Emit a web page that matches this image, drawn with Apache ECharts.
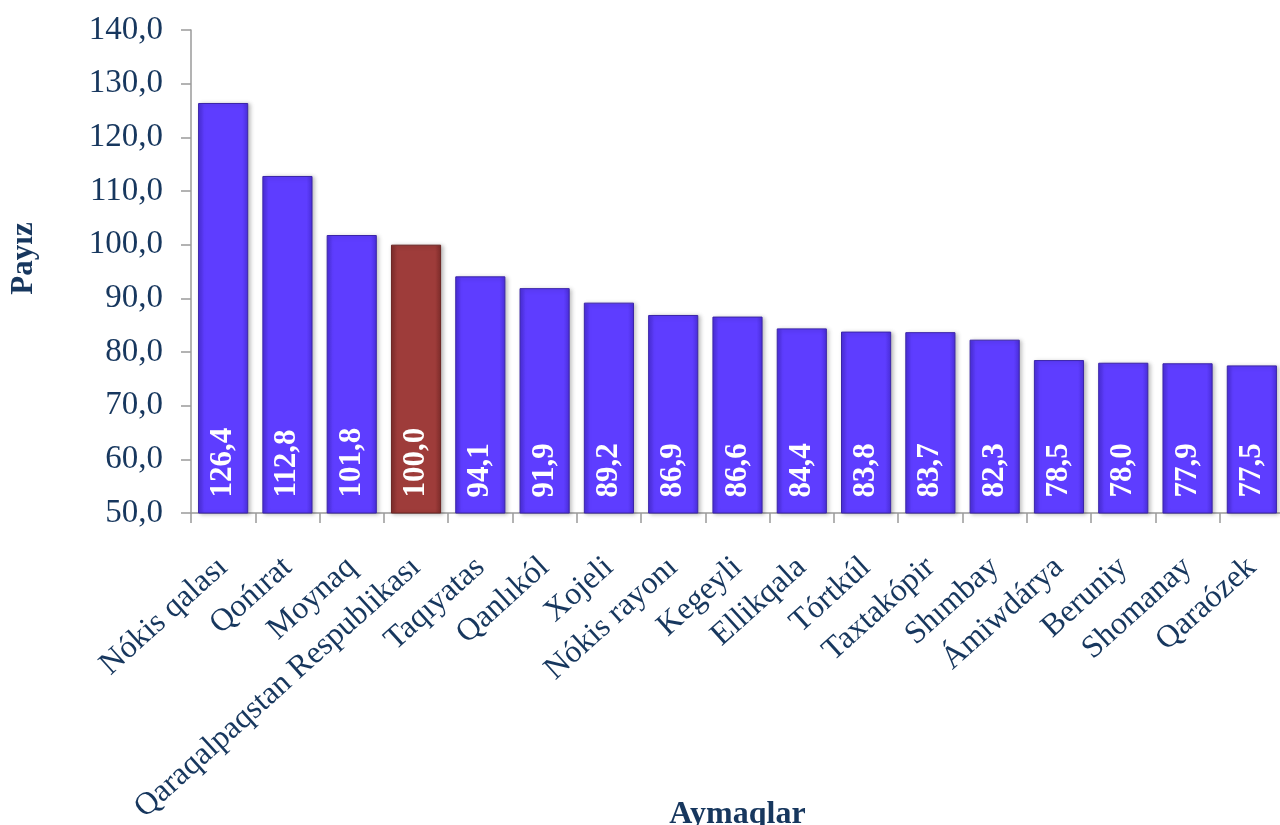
<!DOCTYPE html>
<html>
<head>
<meta charset="utf-8">
<script src="https://cdn.jsdelivr.net/npm/echarts@6/dist/echarts.min.js"></script>
<style>
html,body{margin:0;padding:0;background:#fff;}
#c{width:1280px;height:825px;}
</style>
</head>
<body>
<div id="c"></div>
<script>
const categories = ["Nókis qalası","Qońırat","Moynaq","Qaraqalpaqstan Respublikası","Taqıyatas","Qanlıkól","Xojeli","Nókis rayonı","Kegeyli","Ellikqala","Tórtkúl","Taxtakópir","Shımbay","Ámiwdárya","Beruniy","Shomanay","Qaraózek"];
const values = [126.4,112.8,101.8,100.0,94.1,91.9,89.2,86.9,86.6,84.4,83.8,83.7,82.3,78.5,78.0,77.9,77.5];
const highlightIndex = 3;
const yAxisName = "Payız";
const xAxisName = "Aymaqlar";

const textColor = "#17375E";
const fontFam = "Liberation Serif";

function grad(edge, mid){
  return new echarts.graphic.LinearGradient(0,0,1,0,[
    {offset:0,color:edge},{offset:0.12,color:mid},{offset:0.88,color:mid},{offset:1,color:edge}
  ]);
}

const shadow = {shadowBlur:4, shadowOffsetX:2, shadowOffsetY:1, shadowColor:'rgba(0,0,0,0.25)'};
const data = values.map((v,i)=>({
  value:v,
  itemStyle: i===highlightIndex
    ? Object.assign({color:grad('#7E2C2A','#9E3C3A'), borderColor:'#6A2422', borderWidth:1}, shadow)
    : Object.assign({color:grad('#4A2EDA','#5E3DFF'), borderColor:'#3B25A8', borderWidth:1}, shadow)
}));

const chart = echarts.init(document.getElementById('c'));
chart.setOption({
  animation:false,
  backgroundColor:'#fff',
  grid:{left:191, top:30, bottom:312, width:1093, containLabel:false, outerBoundsMode:'none'},
  xAxis:{
    type:'category',
    data:categories,
    name:xAxisName,
    nameLocation:'middle',
    nameGap:286,
    nameMoveOverlap:false,
    nameTextStyle:{color:textColor, fontFamily:fontFam, fontSize:32, fontWeight:'bold'},
    axisLine:{lineStyle:{color:'#9A9A9A', width:1.5}},
    axisTick:{show:true, length:10, alignWithLabel:false, lineStyle:{color:'#9A9A9A', width:1.5}},
    axisLabel:{rotate:42, interval:0, margin:50, color:textColor, fontFamily:fontFam, fontSize:32}
  },
  yAxis:{
    type:'value',
    min:50, max:140, interval:10,
    name:yAxisName,
    nameLocation:'middle',
    nameGap:152,
    nameRotate:90,
    nameMoveOverlap:false,
    nameTextStyle:{color:textColor, fontFamily:fontFam, fontSize:31, fontWeight:'bold', padding:[0,0,0,26]},
    axisLine:{show:true, lineStyle:{color:'#9A9A9A', width:1.5}},
    axisTick:{show:true, length:10, lineStyle:{color:'#9A9A9A', width:1.5}},
    splitLine:{show:false},
    axisLabel:{margin:28, color:textColor, fontFamily:fontFam, fontSize:33,
      formatter:v=>v.toFixed(1).replace('.',',')}
  },
  series:[{
    type:'bar',
    data:data,
    barCategoryGap:'22%',
    label:{
      show:true,
      position:'insideBottom',
      rotate:90,
      align:'left',
      verticalAlign:'middle',
      distance:16,
      color:'#fff',
      fontFamily:fontFam,
      fontWeight:'bold',
      fontSize:31,
      formatter:p=>p.value.toFixed(1).replace('.',',')
    }
  }]
});
</script>
</body>
</html>
